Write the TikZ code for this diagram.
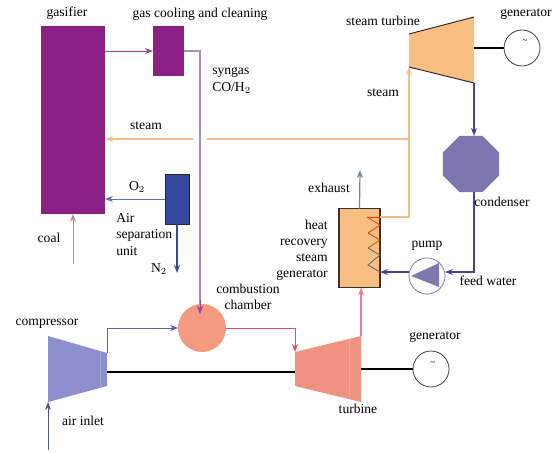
\documentclass[tikz,border=0pt]{standalone}
\usepackage{fontspec}
\setmainfont{Liberation Serif}
\usetikzlibrary{arrows.meta,shapes.geometric,calc}

\definecolor{gaspurple}{HTML}{8B2085}
\definecolor{syngrey}{HTML}{A98FB5}
\definecolor{steamorange}{HTML}{F3BE8E}
\definecolor{hotorange}{HTML}{F8BE82}
\definecolor{asublue}{HTML}{34499F}
\definecolor{airblue}{HTML}{5A6DB5}
\definecolor{compblue}{HTML}{8E90CE}
\definecolor{salmon}{HTML}{F49A80}
\definecolor{turbred}{HTML}{EF9280}
\definecolor{fluered}{HTML}{E8466A}
\definecolor{condviolet}{HTML}{7F78B0}
\definecolor{waterblue}{HTML}{46448F}

\begin{document}
\begin{tikzpicture}[
  x=0.75pt, y=-0.75pt,
  font=\fontsize{10.2}{11}\selectfont,
  box/.style={rectangle, draw=none, inner sep=0pt, outer sep=0pt},
  gen/.style={circle, draw=black!75, line width=0.6pt, fill=white, minimum size=27pt, inner sep=0pt, outer sep=0pt},
  flow/.style={-{Stealth[length=6pt,width=4.5pt]}, line width=0.7pt},
  shaft/.style={line width=1.4pt, black},
  lab/.style={inner sep=0pt},
]
\useasboundingbox (0,0) rectangle (555,452);

% ---------- gasification ----------
\node[box, fill=gaspurple, minimum width=48pt, minimum height=141pt] (gasifier) at (73,120) {};
\node[box, fill=gaspurple, minimum width=23.25pt, minimum height=37.5pt] (cooling) at (168.5,51) {};
\node[box, fill=asublue, draw=black!85, line width=0.6pt, minimum width=18pt, minimum height=37.5pt] (asu) at (177,199) {};
\coordinate (coalin) at (73,264);
\coordinate (nout) at (177,273);
\coordinate (syncorner) at (200,51);
\coordinate (syntip) at (200,314);

% ---------- gas turbine ----------
\node[circle, fill=salmon, minimum size=36pt, inner sep=0pt, outer sep=0pt] (chamber) at (202,328) {};
\coordinate (CPa) at (48,336);
\coordinate (CPb) at (107,353);
\coordinate (CPc) at (107,386);
\coordinate (CPd) at (48,402);
\coordinate (GTa) at (295,352);
\coordinate (GTb) at (361,336);
\coordinate (GTc) at (361,402);
\coordinate (GTd) at (295,386);
\coordinate (airin) at (48,450);
\fill[compblue] (CPa) -- (CPb) -- (CPc) -- (CPd) -- cycle;
\draw[white, opacity=0.2, line width=0.5pt] (100,351) -- (100,388);
\fill[turbred] (GTa) -- (GTb) -- (GTc) -- (GTd) -- cycle;
\draw[white, opacity=0.2, line width=0.5pt] (349,339) -- (349,399);
\node[gen] (gen2) at (431,369) {};

% ---------- steam cycle ----------
\node[box, fill=hotorange, draw=black!80, line width=0.8pt, minimum width=30.75pt, minimum height=59.25pt] (hrsg) at (359.5,248) {};
\coordinate (STa) at (409,34);
\coordinate (STb) at (474,17);
\coordinate (STc) at (474,83);
\coordinate (STd) at (409,67);
\fill[hotorange] (STa) -- (STb) -- (STc) -- (STd) -- cycle;
\draw[black!85, line width=0.7pt] (STa) -- (STb) (STd) -- (STc);
\node[gen] (gen1) at (522,48) {};
\node[regular polygon, regular polygon sides=8, fill=condviolet, minimum size=45.5pt, inner sep=0pt, outer sep=0pt] (condenser) at (471,164) {};
\node[circle, draw=waterblue!70, fill=white, line width=0.6pt, minimum size=27pt, inner sep=0pt, outer sep=0pt] (pump) at (427,276) {};
\fill[condviolet] (411,276) -- (439,263) -- (439,287) -- cycle;
\coordinate (exhaustout) at (360,170);
\coordinate (steamT) at (409,139);
\coordinate (coiltop) at (367,217);
\coordinate (coilend) at (380,272);

% heating coil
\draw[line width=0.6pt, red!60!orange] (coiltop) -- (380,225) -- (368,233);
\draw[line width=0.6pt, orange!70!black] (368,233) -- (380,240) -- (368,248);
\draw[line width=0.6pt, black!60] (368,248) -- (380,255) -- (368,265) -- (coilend);

% ---------- connectors ----------
\draw[flow, gaspurple!85] (gasifier.east |- cooling.west) -- (cooling.west);
\draw[line width=1pt, syngrey] (cooling.east) -- (syncorner) -- (syntip);
\draw[flow, gaspurple!85] ($(syntip)+(0,-14)$) -- (syntip);
\draw[steamorange, line width=1pt] (steamT) -- (207,139);
\draw[flow, steamorange, line width=1pt] (193,139) -- (gasifier.east |- steamT);
\draw[flow, airblue] (asu.west) -- (gasifier.east |- asu.west);
\draw[flow, asublue, line width=1pt] (asu.south) -- (nout);
\draw[flow, syngrey] (coalin) -- (gasifier.south);
\draw[flow, asublue!85] (CPb) -- (CPb |- chamber.west) -- (chamber.west);
\draw[flow, fluered, line width=0.7pt] (chamber.east) -- (GTa |- chamber.east) -- (GTa);
\draw[flow, airblue!80!black] (airin) -- (CPd);
\draw[flow, fluered!70, line width=1pt] (GTb) -- (hrsg.south -| GTb);
\draw[flow, black!30!airblue!70, line width=0.9pt] (hrsg.north) -- (exhaustout);
\draw[red!60!orange, line width=0.7pt] (coiltop) -- (hrsg.east |- coiltop);
\draw[flow, steamorange, line width=1pt] (hrsg.east |- coiltop) -- (STd |- coiltop) -- (STd);
\draw[flow, waterblue, line width=0.8pt] (STc) -- (condenser.north -| STc);
\draw[flow, waterblue, line width=0.8pt] (condenser.south -| STc) |- (pump.east |- coilend);
\draw[flow, waterblue, line width=0.8pt] (pump.west |- coilend) -- (coilend);
\draw[shaft] (CPc |- 0,372) -- (GTd |- 0,372);
\draw[shaft] (GTc |- gen2.west) -- (gen2.west);
\draw[shaft] (STc |- gen1.west) -- (gen1.west);

% ---------- labels ----------
\node[lab] (Lgasifier) at (67,13) {gasifier};
\node[lab] (Lcooling) at (200,14) {gas cooling and cleaning};
\node[lab, anchor=west] (Lsyngas) at (212,72) {syngas};
\node[lab, anchor=west] (Lco) at (212,88) {CO/H$_2$};
\node[lab] (Lsteamleft) at (146,126) {steam};
\node[lab] (Loxygen) at (137,187) {O$_2$};
\node[lab, anchor=north west, align=left] (Lasu) at (116,213) {Air\\[1.5pt]separation\\[1.5pt]unit};
\node[lab] (Lnitrogen) at (159,269) {N$_2$};
\node[lab] (Lcoal) at (49,238) {coal};
\node[lab, align=center] (Lchamber) at (248,297) {combustion\\[1pt]chamber};
\node[lab] (Lcompressor) at (47,324) {compressor};
\node[lab] (Lair) at (83,421) {air inlet};
\node[lab] (Lturbine) at (358,409) {turbine};
\node[lab] (Lgen2) at (435,337) {generator};
\node[lab] (Lfeed) at (488,281) {feed water};
\node[lab] (Lpump) at (427,246) {pump};
\node[lab, anchor=east, align=right] (Lhrsg) at (328,250) {heat\\[1pt]recovery\\[1pt]steam\\[1pt]generator};
\node[lab] (Lexhaust) at (329,188) {exhaust};
\node[lab] (Lcondenser) at (502,202) {condenser};
\node[lab] (Lsteamright) at (383,93) {steam};
\node[lab] (Lsteamturbine) at (383,21) {steam turbine};
\node[lab] (Lgen1) at (526,14) {generator};
\node[lab, font=\scriptsize] (Ltilde1) at (525,42) {\textasciitilde};
\node[lab, font=\scriptsize] (Ltilde2) at (433,364) {\textasciitilde};
\end{tikzpicture}
\end{document}
